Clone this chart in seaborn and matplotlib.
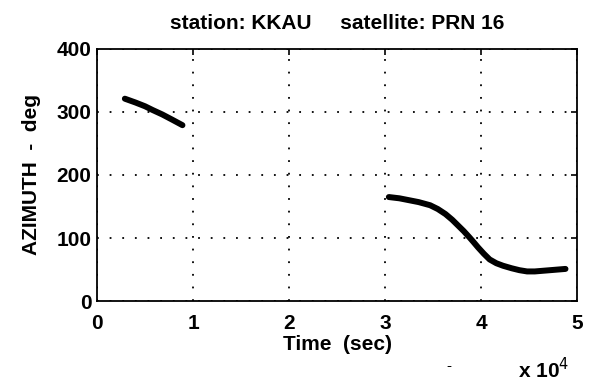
import matplotlib
matplotlib.use("Agg")
import matplotlib.pyplot as plt
import seaborn as sns
import pandas as pd

# Data (time in seconds, azimuth in degrees)
seg1_time = [2900, 4000, 5000, 5800, 6800, 7800, 8900]
seg1_az = [321, 315, 309, 303, 296, 288, 279]

seg2_time = [30400, 31500, 32500, 33500, 34700, 35500, 36300, 37000, 37600,
             38200, 38800, 39200, 39700, 40300, 40900, 41600, 42300, 43200,
             44000, 44800, 45600, 46400, 47200, 48000, 48800]
seg2_az = [165, 163, 160, 157, 152, 146, 138, 129, 120,
           111, 101, 94, 85, 75, 66, 60, 56, 52,
           49, 47, 47, 48, 49, 50, 51]

x_ticks = [0, 1, 2, 3, 4, 5]
y_ticks = [0, 100, 200, 300, 400]

df = pd.concat([
    pd.DataFrame({"time": seg1_time, "az": seg1_az, "seg": 1}),
    pd.DataFrame({"time": seg2_time, "az": seg2_az, "seg": 2}),
])

sns.set_theme(style="white")
plt.rcParams["font.family"] = ["Liberation Sans", "DejaVu Sans"]

FS = 15
fig = plt.figure(figsize=(5.97, 3.85), dpi=100)
ax = fig.add_axes([0.1625, 0.218, 0.804, 0.655])

sns.lineplot(data=df, x="time", y="az", units="seg", estimator=None, sort=False,
             color="black", linewidth=4.3, ax=ax, legend=False)
for ln in ax.lines:
    ln.set_solid_capstyle("round")
    ln.set_solid_joinstyle("round")

ax.set_xlim(0, 50000)
ax.set_ylim(0, 400)
ax.set_xticks([t * 10000 for t in x_ticks])
ax.set_xticklabels([str(t) for t in x_ticks])
ax.set_yticks(y_ticks)
ax.set_yticklabels([str(t) for t in y_ticks])

ax.grid(True, color="black", linestyle=(0, (1, 6)), linewidth=1.3)
for s in ax.spines.values():
    s.set_color("black")
    s.set_linewidth(1.3)
ax.tick_params(direction="in", length=4, width=1.2, colors="black",
               top=True, right=True, labelsize=FS)
ax.tick_params(axis="x", pad=9)
ax.tick_params(axis="y", pad=4)
for lab in ax.get_xticklabels() + ax.get_yticklabels():
    lab.set_color("black")
    lab.set_fontweight("bold")

ax.set_xlabel("Time  (sec)", fontsize=FS, color="black", labelpad=2, fontweight="bold")
ax.set_ylabel("AZIMUTH  -  deg", fontsize=FS, color="black", labelpad=11, fontweight="bold")
ax.set_title("station: KKAU     satellite: PRN 16", fontsize=FS, color="black",
             pad=14, fontweight="bold")

fig.text(0.868, 0.008, r"x 10$^{4}$", fontsize=FS, color="black", ha="left",
         va="bottom", fontweight="bold")
fig.text(0.748, 0.03, "-", fontsize=11, color="black", ha="left", va="bottom")

fig.savefig("out.png", dpi=100, facecolor="white")
